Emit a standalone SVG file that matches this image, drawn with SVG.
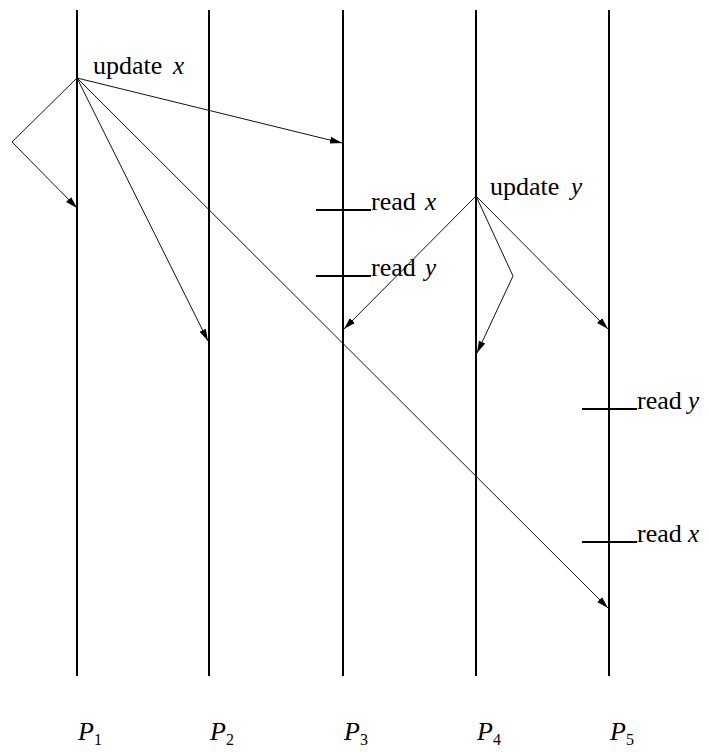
<svg xmlns="http://www.w3.org/2000/svg" width="709" height="753" viewBox="0 0 709 753">
  <style>
    .proc { stroke: #000; stroke-width: 2; fill: none; }
    .tick { stroke: #000; stroke-width: 2; fill: none; }
    .msg { stroke: #111; stroke-width: 1; fill: none; }
  </style>
  <defs>
    <marker id="arrow" markerUnits="userSpaceOnUse" markerWidth="13" markerHeight="9" refX="12" refY="4.5" orient="auto">
      <path d="M0,1 L12,4.5 L0,8 Z" fill="#000"/>
    </marker>
  </defs>
  <rect width="709" height="753" fill="#fff"/>

  <!-- process timelines -->
  <g id="processes" font-family="Liberation Serif, serif" fill="#000">
    <g id="P1">
      <line class="proc" x1="77" y1="10" x2="77" y2="676"/>
      <text font-family="Liberation Serif, serif" font-size="26" font-style="italic" x="78" y="740">P</text>
      <text font-family="Liberation Serif, serif" font-size="16" x="94" y="745">1</text>
    </g>
    <g id="P2">
      <line class="proc" x1="209" y1="10" x2="209" y2="676"/>
      <text font-family="Liberation Serif, serif" font-size="26" font-style="italic" x="210" y="740">P</text>
      <text font-family="Liberation Serif, serif" font-size="16" x="226" y="745">2</text>
    </g>
    <g id="P3">
      <line class="proc" x1="343" y1="10" x2="343" y2="676"/>
      <text font-family="Liberation Serif, serif" font-size="26" font-style="italic" x="344" y="740">P</text>
      <text font-family="Liberation Serif, serif" font-size="16" x="360" y="745">3</text>
    </g>
    <g id="P4">
      <line class="proc" x1="476" y1="10" x2="476" y2="676"/>
      <text font-family="Liberation Serif, serif" font-size="26" font-style="italic" x="477" y="740">P</text>
      <text font-family="Liberation Serif, serif" font-size="16" x="493" y="745">4</text>
    </g>
    <g id="P5">
      <line class="proc" x1="609" y1="10" x2="609" y2="676"/>
      <text font-family="Liberation Serif, serif" font-size="26" font-style="italic" x="610" y="740">P</text>
      <text font-family="Liberation Serif, serif" font-size="16" x="626" y="745">5</text>
    </g>
  </g>

  <!-- events -->
  <g id="events" fill="#000">
    <g id="update-x">
      <text font-family="Liberation Serif, serif" font-size="26" x="93" y="74">update</text>
      <text font-family="Liberation Serif, serif" font-size="25" font-style="italic" x="173" y="74">x</text>
    </g>
    <g id="update-y">
      <text font-family="Liberation Serif, serif" font-size="26" x="490" y="195">update</text>
      <text font-family="Liberation Serif, serif" font-size="25" font-style="italic" x="571" y="195">y</text>
    </g>
    <g id="P3-read-x">
      <line class="tick" x1="316" y1="210" x2="371" y2="210"/>
      <text font-family="Liberation Serif, serif" font-size="26" x="371" y="210">read</text>
      <text font-family="Liberation Serif, serif" font-size="25" font-style="italic" x="425" y="210">x</text>
    </g>
    <g id="P3-read-y">
      <line class="tick" x1="316" y1="276" x2="371" y2="276"/>
      <text font-family="Liberation Serif, serif" font-size="26" x="371" y="276">read</text>
      <text font-family="Liberation Serif, serif" font-size="25" font-style="italic" x="425" y="276">y</text>
    </g>
    <g id="P5-read-y">
      <line class="tick" x1="582" y1="409" x2="637" y2="409"/>
      <text font-family="Liberation Serif, serif" font-size="26" x="637" y="409">read</text>
      <text font-family="Liberation Serif, serif" font-size="25" font-style="italic" x="688" y="409">y</text>
    </g>
    <g id="P5-read-x">
      <line class="tick" x1="582" y1="542" x2="637" y2="542"/>
      <text font-family="Liberation Serif, serif" font-size="26" x="637" y="542">read</text>
      <text font-family="Liberation Serif, serif" font-size="25" font-style="italic" x="688" y="542">x</text>
    </g>
  </g>

  <!-- messages -->
  <g id="connectors">
    <polyline class="msg" points="77,78 12,142 77,208" marker-end="url(#arrow)"/>
    <line class="msg" x1="77" y1="78" x2="342" y2="143" marker-end="url(#arrow)"/>
    <line class="msg" x1="77" y1="78" x2="208" y2="341" marker-end="url(#arrow)"/>
    <line class="msg" x1="77" y1="78" x2="608" y2="608" marker-end="url(#arrow)"/>
    <line class="msg" x1="476" y1="196" x2="344" y2="329" marker-end="url(#arrow)"/>
    <polyline class="msg" points="476,196 513,276 477,353" marker-end="url(#arrow)"/>
    <line class="msg" x1="476" y1="196" x2="608" y2="329" marker-end="url(#arrow)"/>
  </g>
</svg>
